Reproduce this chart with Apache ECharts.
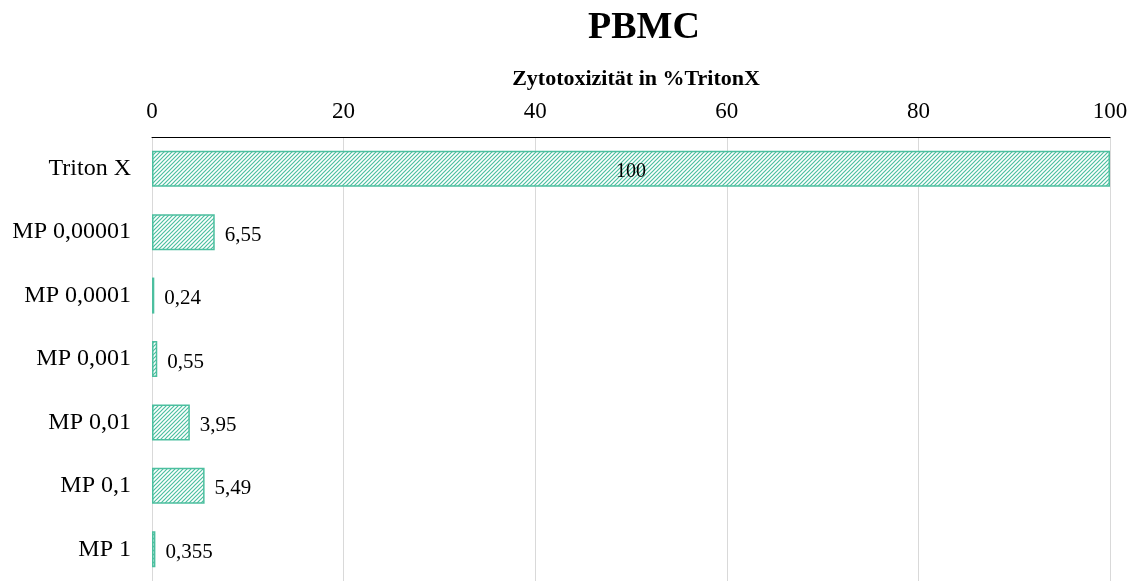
<!DOCTYPE html>
<html>
<head>
<meta charset="utf-8">
<script src="https://cdn.jsdelivr.net/npm/echarts@6/dist/echarts.min.js"></script>
<style>
  html, body { margin: 0; padding: 0; background: #fff; }
  #chart { width: 1137px; height: 581px; }
</style>
</head>
<body>
<div id="chart"></div>
<script>
const categories = ["Triton X", "MP 0,00001", "MP 0,0001", "MP 0,001", "MP 0,01", "MP 0,1", "MP 1"];
const values = [100, 6.55, 0.24, 0.55, 3.95, 5.49, 0.355];
const labelsInside = ["Triton X"];

const teal = "#4cbf9f";

// schraffur-muster
const makeHatch = () => {
  const n = 4;
  const c = document.createElement("canvas");
  c.width = n;
  c.height = n;
  const ctx = c.getContext("2d");
  ctx.fillStyle = "#ffffff";
  ctx.fillRect(0, 0, n, n);
  ctx.strokeStyle = teal;
  ctx.lineWidth = 1.2;
  ctx.beginPath();
  ctx.moveTo(-1, n + 1);
  ctx.lineTo(n + 1, -1);
  ctx.moveTo(-1, 1);
  ctx.lineTo(1, -1);
  ctx.moveTo(n - 1, n + 1);
  ctx.lineTo(n + 1, n - 1);
  ctx.stroke();
  return c;
};

const fmt = (v) => String(v).replace(".", ",");

const myChart = echarts.init(document.getElementById("chart"));

const option = {
  animation: false,
  title: {
    text: "PBMC",
    left: 583,
    top: 4,
    textStyle: {
      fontFamily: "Liberation Serif",
      fontSize: 38,
      fontWeight: "bold",
      color: "#000",
    },
  },
  grid: {
    left: 152,
    right: 27,
    top: 137,
    bottom: 0,
    containLabel: false,
  },
  xAxis: {
    type: "value",
    position: "top",
    min: 0,
    max: 100,
    interval: 20,
    name: "Zytotoxizität in %TritonX",
    nameLocation: "middle",
    nameGap: 47,
    nameTextStyle: {
      fontFamily: "Liberation Serif",
      fontSize: 22,
      fontWeight: "bold",
      color: "#000",
      padding: [0, 0, 0, 10],
    },
    axisLine: { show: true, lineStyle: { color: "#000", width: 1 } },
    axisTick: { show: false },
    axisLabel: {
      margin: 14,
      fontFamily: "Liberation Serif",
      fontSize: 23,
      color: "#000",
    },
    splitLine: { show: true, lineStyle: { color: "#d9d9d9", width: 1 } },
  },
  yAxis: {
    type: "category",
    inverse: true,
    data: categories,
    axisLine: { show: false },
    axisTick: { show: false },
    axisLabel: {
      margin: 21,
      fontFamily: "Liberation Serif",
      fontSize: 24,
      color: "#000",
    },
  },
  series: [
    {
      type: "bar",
      barWidth: 36,
      data: values.map((v, i) => ({
        value: v,
        label: {
          position: labelsInside.includes(categories[i]) ? "inside" : "right",
          fontSize: labelsInside.includes(categories[i]) ? 20 : 21,
        },
      })),
      itemStyle: {
        color: { image: makeHatch(), repeat: "repeat" },
        borderColor: teal,
        borderWidth: 1.5,
      },
      label: {
        show: true,
        distance: 10,
        offset: [0, 3],
        formatter: (p) => fmt(p.value),
        fontFamily: "Liberation Serif",
        fontSize: 21,
        color: "#000",
      },
    },
  ],
};

myChart.setOption(option);
window.addEventListener("resize", () => {
  myChart.resize();
});
</script>
</body>
</html>
